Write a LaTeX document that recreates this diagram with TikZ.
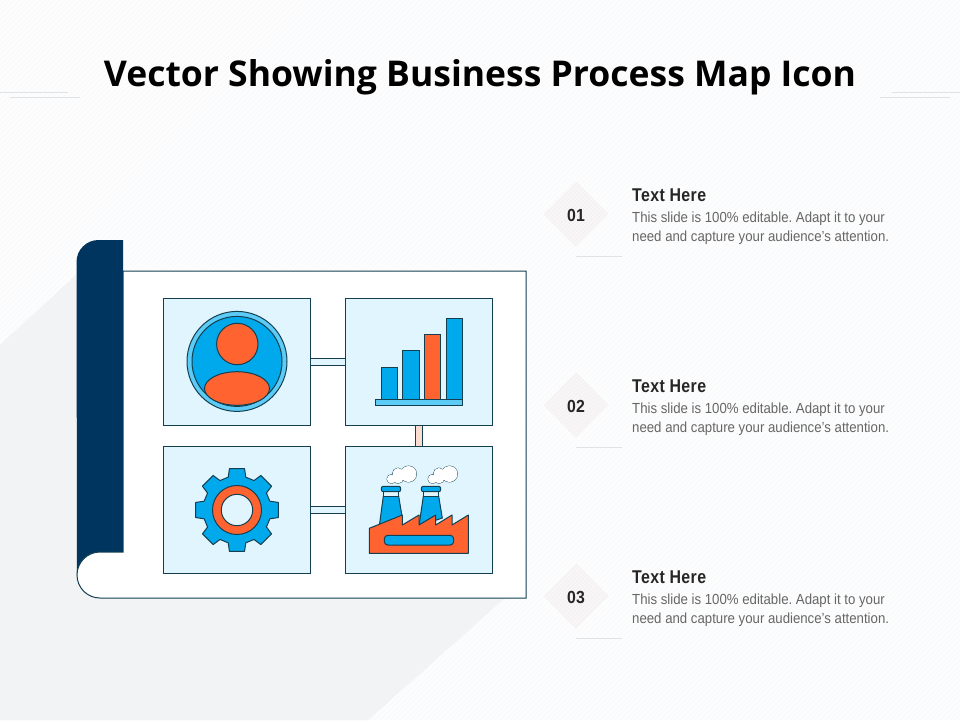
\documentclass[tikz,border=0pt]{standalone}
\usepackage{fontspec}
\setmainfont{Liberation Sans}
\newfontfamily\titlefont{Open Sans}
\newfontfamily\bodyfont[FakeStretch=0.905]{Liberation Sans}
\newfontfamily\headfont[FakeStretch=0.86,LetterSpace=2]{Liberation Sans}
\pgfdeclarelayer{sheetlayer}
\pgfdeclarelayer{linklayer}
\pgfsetlayers{sheetlayer,linklayer,main}
\definecolor{ink}{HTML}{133F50}
\definecolor{navy}{HTML}{003560}
\definecolor{pale}{HTML}{E0F5FE}
\definecolor{sky}{HTML}{00A8EC}
\definecolor{lightsky}{HTML}{5CCBF5}
\definecolor{flame}{HTML}{FF6430}
\definecolor{peach}{HTML}{FADCD0}
\definecolor{bgc}{HTML}{FDFDFE}
\definecolor{hatch}{HTML}{F7F9FB}
\definecolor{shadowc}{HTML}{F1F3F4}
\definecolor{rule}{HTML}{E0E3E5}
\definecolor{diam}{HTML}{F8F6F6}
\definecolor{diamh}{HTML}{F3EFEF}
\definecolor{headc}{HTML}{262626}
\definecolor{bodyc}{HTML}{666666}
\tikzset{
  x=1pt,y=-1pt,
  outl/.style={draw=ink,line width=1pt},
  panelbox/.style={outl,fill=pale,minimum width=147.5pt,minimum height=127.5pt,inner sep=0pt,anchor=center},
  link/.style={draw=ink,line width=1pt,double distance=5.4pt},
  blue/.style={outl,fill=sky},
  lblue/.style={outl,fill=lightsky},
  orange/.style={outl,fill=flame},
  numlabel/.style={font=\fontsize{17.5}{17.5}\selectfont\bfseries\bodyfont,text=headc,inner sep=0pt},
  headlabel/.style={font=\fontsize{18.5}{18.5}\selectfont\bfseries\headfont,text=headc,anchor=base west,inner sep=0pt},
  bodylabel/.style={font=\frenchspacing\fontsize{14.6}{18.3}\selectfont\bodyfont,text=bodyc,anchor=north west,inner sep=0pt,align=left},
  rulel/.style={draw=rule,line width=0.8pt},
  diamondfill/.style={fill=diam}
}
\begin{document}
\begin{tikzpicture}
\useasboundingbox (0,0) rectangle (960,720);
\begin{pgfonlayer}{sheetlayer}
\fill[bgc] (0,0) rectangle (960,720);
\foreach \i in {0,5,...,1680} {\draw[hatch,line width=0.7pt] (\i,0) -- (\i-720,720);}
% shadow
\fill[shadowc] (76,275) -- (0,345) -- (0,720) -- (368,720) -- (505,598) -- (100,598) -- cycle;
% band
\fill[navy] (123,240) -- (123,552) -- (100,552) arc[start angle=270,end angle=180,radius=23] -- (76.5,262) arc[start angle=180,end angle=270,radius=22] -- cycle;
% sheet
\path[fill=white,draw=ink,line width=1pt] (123,271) -- (526,271) -- (526,598) -- (100,598) arc[start angle=90,end angle=270,radius=23] -- (123,552) -- cycle;
\fill[navy] (122,240) rectangle (123,552);
\end{pgfonlayer}
% title rules
\draw[rulel] (0,92) -- (68,92);
\draw[rulel] (10,97) -- (80,97);
\draw[rulel] (892,92) -- (960,92);
\draw[rulel] (880,97) -- (950,97);
\node[font=\fontsize{35.5}{35.5}\selectfont\bfseries\titlefont,text=black,inner sep=0pt] (title) at (480,77) {Vector Showing Business Process Map Icon};
% boxes
\node[panelbox] (b1) at (237,362) {};
\node[panelbox] (b2) at (419,362) {};
\node[panelbox] (b3) at (237,510) {};
\node[panelbox] (b4) at (419,510) {};
% links
\begin{pgfonlayer}{linklayer}
\draw[link,double=pale] (b1.center) -- (b2.center);
\draw[link,double=pale] (b3.center) -- (b4.center);
\draw[link,double=peach] (b2.center) -- (b4.center);
\end{pgfonlayer}
% person
\draw[lblue] (237,361.4) circle[radius=50];
\draw[blue] (237,361.4) circle[radius=45];
\draw[orange] (237.3,344) circle[radius=20.7];
\draw[orange] (237,388.5) ellipse[x radius=32.5,y radius=16.8];
% bars
\draw[blue] (381.3,367.3) rectangle (397.7,399.3);
\draw[blue] (402.3,350.3) rectangle (419.7,399.3);
\draw[orange] (424.3,334.3) rectangle (440.7,399.3);
\draw[blue] (446.3,318.3) rectangle (462.7,399.3);
\draw[lblue] (375.3,399.3) rectangle (462.7,405.7);
% gear
\begin{scope}[shift={(237,510)}]
\draw[blue,line join=round] (-15:34) -- (-10.4:42) -- (10.4:42) -- (15:34)
 \foreach \a in {45,90,...,315} { -- (\a-15:34) -- (\a-10.4:42) -- (\a+10.4:42) -- (\a+15:34) } -- cycle;
\draw[orange] (0,0) circle[radius=24.5];
\draw[outl,fill=pale] (0,0) circle[radius=15.7];
\end{scope}
% factory chimneys
\draw[blue] (383.3,496.3) -- (398.7,496.3) -- (402.3,518) -- (379.3,526) -- cycle;
\draw[outl,fill=pale] (383.3,491.7) rectangle (398.7,496.3);
\draw[blue,rounded corners=2pt] (381.3,486.3) rectangle (400.7,491.7);
\draw[blue] (423.3,496.3) -- (438.7,496.3) -- (442.3,518) -- (419,526) -- cycle;
\draw[outl,fill=pale] (423.3,491.7) rectangle (438.7,496.3);
\draw[blue,rounded corners=2pt] (421.3,486.3) rectangle (440.7,491.7);
\draw[orange,line join=round] (369.3,528.3) -- (402.3,515) -- (402.3,525) -- (419,515) -- (419,525) -- (435.7,515) -- (435.7,525) -- (452,515) -- (452,525) -- (468.3,515) -- (468.3,553.3) -- (369.3,553.3) -- cycle;
\draw[blue,rounded corners=3.5pt] (384.3,535.3) rectangle (453.7,545);
% clouds
\foreach \dx in {0,41} {
 \begin{scope}[xshift=\dx pt]
 \foreach \cx/\cy/\r in {391.5/479/4.5,398/473.5/5.5,408.5/474/8,398/478/5.5} {\draw[outl,line width=.8pt] (\cx,\cy) circle[radius=\r];}
 \foreach \cx/\cy/\r in {391.5/479/4.5,398/473.5/5.5,408.5/474/8,398/478/5.5} {\fill[white] (\cx,\cy) circle[radius=\r];}
 \end{scope}
}
% rows
\foreach \n/\y in {01/214,02/405,03/596} {
 \fill[diamondfill] (576,\y-33) -- (608.5,\y) -- (576,\y+33) -- (543.5,\y) -- cycle;
 \begin{scope}
 \clip (576,\y-33) -- (608.5,\y) -- (576,\y+33) -- (543.5,\y) -- cycle;
 \foreach \k in {-70,-66,...,70} {\draw[diamh,line width=0.6pt] (576+\k-40,\y+40) -- (576+\k+40,\y-40);}
 \end{scope}
 \node[numlabel] (n\n) at (576,\y+1) {\n};
 \draw[rulel] (576,\y+42) -- (622,\y+42);
 \node[headlabel] (h\n) at (632,\y-12.5) {Text Here};
 \node[bodylabel] (t\n) at (632,\y-2) {This slide is 100\% editable. Adapt it to your\\need and capture your audience’s attention.};
}
\end{tikzpicture}
\end{document}
